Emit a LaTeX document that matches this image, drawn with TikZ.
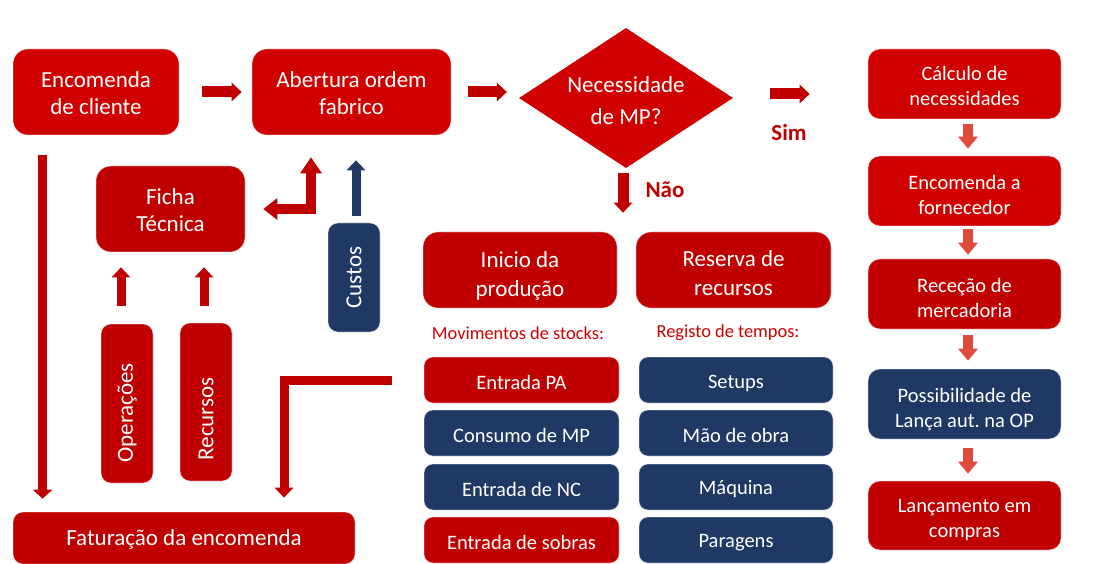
\documentclass[tikz,border=0pt]{standalone}
\usepackage{fontspec}
\setmainfont{Carlito}
\frenchspacing
\usetikzlibrary{arrows.meta,shapes.geometric}
\definecolor{redA}{HTML}{D00000}
\definecolor{redB}{HTML}{C00000}
\definecolor{navy}{HTML}{203864}
\definecolor{orng}{HTML}{E04A3A}
\newcommand\myfs[2]{\fontsize{#1}{#2}\selectfont}
\tikzset{
  box/.style={rectangle, rounded corners=15pt, inner sep=0pt,
              draw=white, draw opacity=0.45, line width=0.8pt},
  rbox/.style={box, rounded corners=12pt},
  sbox/.style={box, rounded corners=9pt, minimum width=195pt, minimum height=46pt},
  vbox/.style={box, rounded corners=10pt, minimum width=52pt},
  tx/.style={inner sep=0pt, align=center, text=white, font=\myfs{23}{27}},
  rtx/.style={tx, font=\myfs{20.5}{25}},
  stx/.style={tx, font=\myfs{20.5}{25}},
  vtxt/.style={tx, rotate=90},
  lbl/.style={text=redB, font=\bfseries\myfs{23}{27}, inner sep=0pt},
  sub/.style={text=redA, font=\myfs{18.4}{22}, inner sep=0pt},
  blk/.style={line width=#1, line join=miter},
  tipA/.style={-{Triangle[width=19pt,length=10pt,line width=0pt]}},
}
\begin{document}
\begin{tikzpicture}[x=1pt,y=-1pt]
\useasboundingbox (0,0) rectangle (1109,564);
\clip (0,0) rectangle (1109,564);

% top row
\node[box, fill=redA, minimum width=166pt, minimum height=86pt] (enc) at (96,92) {};
\node[tx] (encT) at ([yshift=-1pt]enc.center) {Encomenda\\de cliente};
\node[box, fill=redA, minimum width=199pt, minimum height=86pt] (abert) at (351.5,92) {};
\node[tx] (abertT) at ([yshift=-1.5pt]abert.center) {Abertura ordem\\fabrico};
\node[diamond, fill=redA, inner sep=0pt, aspect=1.53, minimum width=214pt, minimum height=140pt] (dia) at (626,98) {};
\node[tx, font=\myfs{23}{32}] (diaT) at ([yshift=-2.5pt]dia.center) {Necessidade\\de MP?};

% right column
\node[rbox, fill=redA, minimum width=193pt, minimum height=70pt] (calc) at (964.5,84) {};
\node[rtx] (calcT) at ([yshift=-1.5pt]calc.center) {Cálculo de\\necessidades};
\node[rbox, fill=redA, minimum width=193pt, minimum height=70pt] (forn) at (964.5,191) {};
\node[rtx] (fornT) at ([yshift=-3.5pt]forn.center) {Encomenda a\\fornecedor};
\node[rbox, fill=redB, minimum width=193pt, minimum height=70pt] (rece) at (964.5,294) {};
\node[rtx] (receT) at ([yshift=-4pt]rece.center) {Receção de\\mercadoria};
\node[rbox, fill=navy, minimum width=193pt, minimum height=70pt] (poss) at (964.5,404) {};
\node[rtx] (possT) at ([yshift=-5.5pt]poss.center) {Possibilidade de\\Lança aut. na OP};
\node[rbox, fill=redB, minimum width=193pt, minimum height=69pt] (lanc) at (964.5,515.5) {};
\node[rtx] (lancT) at ([yshift=-5pt]lanc.center) {Lançamento em\\compras};

% left area
\node[box, fill=redB, minimum width=149pt, minimum height=86pt] (ficha) at (170.5,209) {};
\node[tx] (fichaT) at ([yshift=-1pt]ficha.center) {Ficha\\Técnica};
\node[vbox, fill=navy, minimum height=109pt] (cust) at (354,277.5) {};
\node[vtxt] (custT) at (cust.center) {Custos};
\node[vbox, fill=redB, minimum height=159pt] (ops) at (127,403.5) {};
\node[vtxt] (opsT) at ([yshift=-9.5pt]ops.center) {Operações};
\node[vbox, fill=redB, minimum height=158pt] (recs) at (206,402) {};
\node[vtxt] (recsT) at ([yshift=-17pt]recs.center) {Recursos};
\node[box, fill=redB, rounded corners=10pt, minimum width=342pt, minimum height=52pt] (fat) at (184,538) {};
\node[tx] (fatT) at ([yshift=-1pt]fat.center) {Faturação da encomenda};

% middle
\node[box, fill=redB, minimum width=194pt, minimum height=76pt] (ini) at (520,270) {};
\node[tx, font=\myfs{23}{29}] (iniT) at ([yshift=-6pt]ini.center) {Inicio da\\produção};
\node[box, fill=redB, minimum width=195pt, minimum height=76pt] (res) at (733.5,270) {};
\node[tx, font=\myfs{23}{29}] (resT) at ([yshift=-3pt]res.center) {Reserva de\\recursos};
\node[sub] (mov) at (518,333) {Movimentos de stocks:};
\node[sub] (reg) at (728,333) {Registo de tempos:};

\node[sbox, fill=redB] (epa) at (521.5,380) {};
\node[stx] (epaT) at ([yshift=-2pt]epa.center) {Entrada PA};
\node[sbox, fill=navy] (cmp) at (521.5,433) {};
\node[stx] (cmpT) at ([yshift=-2pt]cmp.center) {Consumo de MP};
\node[sbox, fill=navy] (enc2) at (521.5,487) {};
\node[stx] (enc2T) at ([yshift=-2pt]enc2.center) {Entrada de NC};
\node[sbox, fill=redB] (sob) at (521.5,540) {};
\node[stx] (sobT) at ([yshift=-2pt]sob.center) {Entrada de sobras};
\node[sbox, fill=navy, minimum width=194pt] (set) at (736,380) {};
\node[stx] (setT) at ([yshift=-3.5pt]set.center) {Setups};
\node[sbox, fill=navy, minimum width=194pt] (mao) at (736,433) {};
\node[stx] (maoT) at ([yshift=-2pt]mao.center) {Mão de obra};
\node[sbox, fill=navy, minimum width=194pt] (maq) at (736,487) {};
\node[stx] (maqT) at ([yshift=-2.5pt]maq.center) {Máquina};
\node[sbox, fill=navy, minimum width=194pt] (par) at (736,540) {};
\node[stx] (parT) at ([yshift=-3pt]par.center) {Paragens};

% labels
\node[lbl] (sim) at (789,133) {Sim};
\node[lbl] (nao) at (665,190) {Não};

% connectors
\draw[blk=11pt, redB, tipA, shorten <=23pt, shorten >=10pt] (enc.east) -- (abert.west);
\draw[blk=11pt, redB, tipA, shorten <=17pt, shorten >=12pt] (abert.east) -- (abert.east -| dia.west);
\draw[blk=11pt, redB, tipA, shorten <=37pt, shorten >=58pt] ([yshift=4pt]dia.east) -- ([yshift=4pt]dia.east -| calc.west);
\draw[blk=11pt, redB, tipA, shorten <=5pt, shorten >=19pt] ([xshift=-3pt]dia.south) -- ([xshift=-3pt]dia.south |- ini.north);

\draw[blk=10pt, orng, -{Triangle[width=20pt,length=12pt,line width=0pt]}, shorten <=5pt, shorten >=7pt] ([xshift=3.5pt]calc.south) -- ([xshift=3.5pt]forn.north);
\draw[blk=10pt, orng, -{Triangle[width=20pt,length=12pt,line width=0pt]}, shorten <=3pt, shorten >=4pt] ([xshift=3.5pt]forn.south) -- ([xshift=3.5pt]rece.north);
\draw[blk=10pt, orng, -{Triangle[width=20pt,length=12pt,line width=0pt]}, shorten <=6pt, shorten >=8pt] ([xshift=3.5pt]rece.south) -- ([xshift=3.5pt]poss.north);
\draw[blk=10pt, orng, -{Triangle[width=20pt,length=12pt,line width=0pt]}, shorten <=9pt, shorten >=7pt] ([xshift=3.5pt]poss.south) -- ([xshift=3.5pt]lanc.north);

\draw[blk=9pt, redB, -{Triangle[width=20pt,length=9pt,line width=0pt]}, shorten <=20pt, shorten >=13pt] ([xshift=30pt]enc.south west) -- ([xshift=30pt]enc.south west |- fat.north);

\coordinate (bend) at (311,209);
\draw[blk=10pt, redB, {Triangle[width=22pt,length=14pt,line width=0pt]}-{Triangle[width=22pt,length=16pt,line width=0pt]}, shorten <=18pt, shorten >=22pt] (ficha.east |- bend) -- (bend) -- (bend |- abert.south);

\draw[blk=9pt, navy, tipA, shorten <=7pt, shorten >=25pt] ([xshift=2pt]cust.north) -- ([xshift=2pt]cust.north |- abert.south);
\draw[blk=9pt, redB, tipA, shorten <=18pt, shorten >=15pt] ([xshift=-6pt]ops.north) -- ([xshift=-6pt]ops.north |- ficha.south);
\draw[blk=9pt, redB, tipA, shorten <=17pt, shorten >=15pt] ([xshift=-2pt]recs.north) -- ([xshift=-2pt]recs.north |- ficha.south);

\coordinate (corner) at (284,380);
\draw[blk=9pt, redB, tipA, shorten <=32pt, shorten >=14pt] (epa.west) -- (corner) -- (corner |- fat.north);
\end{tikzpicture}
\end{document}
